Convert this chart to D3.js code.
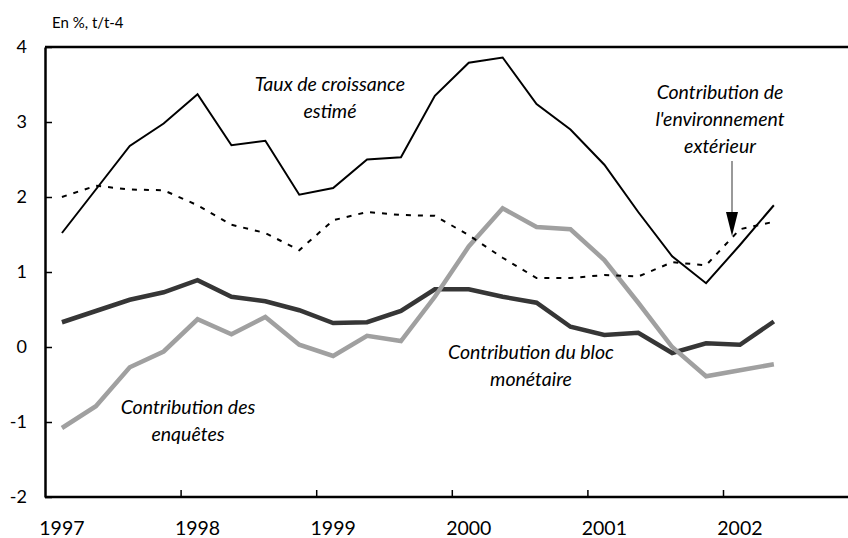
<!DOCTYPE html>
<html>
<head>
<meta charset="utf-8">
<script src="https://cdn.jsdelivr.net/npm/d3@7"></script>
<style>
  body { margin: 0; background: #fff; }
  .chart text { font-family: Lato, "Open Sans", sans-serif; fill: #000; }
</style>
</head>
<body>
<div class="chart"></div>
<script>
// trimestres 1997T1 .. 2002T2
const quarters = ["1997T1","1997T2","1997T3","1997T4","1998T1","1998T2","1998T3","1998T4",
    "1999T1","1999T2","1999T3","1999T4","2000T1","2000T2","2000T3","2000T4",
    "2001T1","2001T2","2001T3","2001T4","2002T1","2002T2"];

const tauxEstime = [1.52, 2.1, 2.68, 2.98, 3.37, 2.69, 2.75, 2.03, 2.12, 2.5, 2.53, 3.35,
    3.79, 3.86, 3.24, 2.9, 2.43, 1.8, 1.21, 0.85, 1.36, 1.89];
const contribEnvironnement = [2.0, 2.15, 2.1, 2.09, 1.89, 1.63, 1.52, 1.29, 1.69, 1.8, 1.76, 1.75,
    1.49, 1.19, 0.92, 0.92, 0.96, 0.94, 1.13, 1.09, 1.57, 1.67];
const contribBloc = [0.33, 0.48, 0.63, 0.73, 0.89, 0.67, 0.61, 0.49, 0.32, 0.33, 0.48, 0.77,
    0.77, 0.67, 0.59, 0.27, 0.16, 0.19, -0.08, 0.05, 0.03, 0.34];
const contribEnquetes = [-1.08, -0.79, -0.27, -0.06, 0.37, 0.17, 0.40, 0.03, -0.12, 0.15, 0.08, 0.67,
    1.34, 1.85, 1.60, 1.57, 1.16, 0.59, 0.0, -0.39, -0.31, -0.23];

const years = [1997, 1998, 1999, 2000, 2001, 2002];
const yTicks = [-2, -1, 0, 1, 2, 3, 4];

const width = 848, height = 538;
const margin = {top: 47, left: 45, bottom: 41};

const svg = d3.select(".chart").append("svg")
    .attr("width", width)
    .attr("height", height);

// position d'un trimestre : milieu du trimestre
const qPos = q => +q.slice(0, 4) + (+q.slice(5) - 0.5) / 4;

const xScale = d3.scaleLinear()
    .domain([1997, 2003])
    .range([margin.left, margin.left + 6 * 135.6]);

const yScale = d3.scaleLinear()
    .domain([-2, 4])
    .range([height - margin.bottom, margin.top]);

// cadre haut
svg.append("line")
    .attr("x1", margin.left).attr("x2", width)
    .attr("y1", yScale(4)).attr("y2", yScale(4))
    .attr("stroke", "#000").attr("stroke-width", 2.5);

const xAxis = d3.axisBottom(xScale)
    .tickValues(years.slice(1))
    .tickSize(-7)
    .tickSizeOuter(0)
    .tickFormat("");

svg.append("g")
    .attr("class", "axis x-axis")
    .attr("transform", `translate(0,${yScale(-2)})`)
    .call(xAxis)
    .call(g => g.select(".domain").attr("stroke-width", 2.5).attr("d", `M${margin.left},0H${width}`))
    .call(g => g.selectAll(".tick line").attr("stroke-width", 1.5));

svg.append("g")
    .attr("class", "x-labels")
    .selectAll("text")
    .data(years)
    .join("text")
    .attr("x", d => xScale(d + 0.125))
    .attr("y", 535)
    .attr("text-anchor", "middle")
    .attr("font-size", 19.5)
    .text(d => d);

const yAxis = d3.axisLeft(yScale)
    .tickValues(yTicks)
    .tickSize(-7)
    .tickSizeOuter(0)
    .tickPadding(18)
    .tickFormat(d => String(d));

svg.append("g")
    .attr("class", "axis y-axis")
    .attr("transform", `translate(${margin.left},0)`)
    .call(yAxis)
    .call(g => g.select(".domain").attr("stroke-width", 2.5))
    .call(g => g.selectAll(".tick line").attr("stroke-width", 1.5))
    .call(g => g.selectAll(".tick text").attr("font-size", 18).attr("font-family", "Lato, sans-serif"));

svg.append("text")
    .attr("x", 52)
    .attr("y", 28)
    .attr("font-size", 15)
    .text("En %, t/t-4");

const line = d3.line()
    .x((d, i) => xScale(qPos(quarters[i])))
    .y(d => yScale(d));

const series = [
    {values: contribBloc, color: "#363636", width: 4.5, dash: null},
    {values: contribEnquetes, color: "#a0a0a0", width: 4.5, dash: null},
    {values: contribEnvironnement, color: "#000", width: 2, dash: "5,7"},
    {values: tauxEstime, color: "#000", width: 2, dash: null}
];

svg.append("g")
    .selectAll("path")
    .data(series)
    .join("path")
    .attr("fill", "none")
    .attr("stroke", d => d.color)
    .attr("stroke-width", d => d.width)
    .attr("stroke-dasharray", d => d.dash)
    .attr("stroke-linejoin", "miter")
    .attr("d", d => line(d.values));

// annotations
const notes = [
    {x: 330, y: 91, lines: ["Taux de croissance", "estimé"]},
    {x: 720, y: 99, lines: ["Contribution de", "l'environnement", "extérieur"]},
    {x: 531, y: 359, lines: ["Contribution du bloc", "monétaire"]},
    {x: 188, y: 414, lines: ["Contribution des", "enquêtes"]}
];

const label = svg.append("g")
    .attr("font-size", 19.5)
    .attr("font-style", "italic")
    .selectAll("text")
    .data(notes)
    .join("text")
    .attr("text-anchor", "middle")
    .attr("y", d => d.y);

label.selectAll("tspan")
    .data(d => d.lines.map(t => ({t, x: d.x})))
    .join("tspan")
    .attr("x", d => d.x)
    .attr("dy", (d, i) => i === 0 ? 0 : 27)
    .text(d => d.t);

// flèche
svg.append("line")
    .attr("x1", 732).attr("x2", 732)
    .attr("y1", 161).attr("y2", 214)
    .attr("stroke", "#777").attr("stroke-width", 1.5);

svg.append("path")
    .attr("d", "M726,212L738,212L732,236Z")
    .attr("fill", "#000");
</script>
</body>
</html>
